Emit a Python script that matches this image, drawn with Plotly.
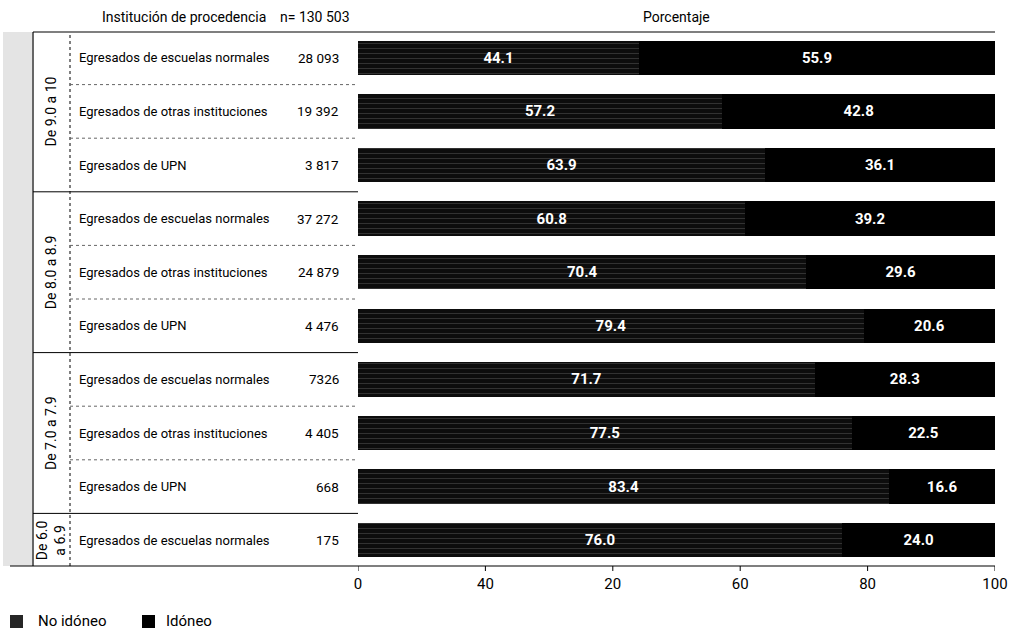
import plotly.graph_objects as go

groups = ["De 9.0 a 10", "De 8.0 a 8.9", "De 7.0 a 7.9", "De 6.0<br>a 6.9"]
group_centers = [1, 4, 7, 9]
institutions = [
    "Egresados de escuelas normales", "Egresados de otras instituciones", "Egresados de UPN",
    "Egresados de escuelas normales", "Egresados de otras instituciones", "Egresados de UPN",
    "Egresados de escuelas normales", "Egresados de otras instituciones", "Egresados de UPN",
    "Egresados de escuelas normales",
]
n_values = ["28 093", "19 392", "3 817", "37 272", "24 879", "4 476", "7326", "4 405", "668", "175"]
no_idoneo = [44.1, 57.2, 63.9, 60.8, 70.4, 79.4, 71.7, 77.5, 83.4, 76.0]
idoneo = [55.9, 42.8, 36.1, 39.2, 29.6, 20.6, 28.3, 22.5, 16.6, 24.0]
tick_vals = [0, 20, 40, 60, 80, 100]
tick_text = ["0", "40", "20", "60", "80", "100"]
series_names = ["No idóneo", "Idóneo"]

W, H = 1009, 631
FONT = "Roboto, Open Sans, sans-serif"
rows = list(range(len(no_idoneo)))

def px(x):
    return x / W

def py(y):
    return 1 - y / H

fig = go.Figure()
fig.add_trace(go.Bar(
    y=rows, x=no_idoneo, orientation="h", name=series_names[0],
    marker=dict(color="#0d0d0d", line=dict(width=0),
                pattern=dict(shape="-", fgcolor="#8a8a8a", bgcolor="#0d0d0d", size=5, solidity=0.12)),
    text=[f"{v:.1f}" for v in no_idoneo], textposition="inside", insidetextanchor="middle",
    textfont=dict(color="white", size=15, family=FONT, weight="bold"), width=0.64,
))
fig.add_trace(go.Bar(
    y=rows, x=idoneo, orientation="h", name=series_names[1],
    marker=dict(color="#000000", line=dict(width=0)),
    text=[f"{v:.1f}" for v in idoneo], textposition="inside", insidetextanchor="middle",
    textfont=dict(color="white", size=15, family=FONT, weight="bold"), width=0.64,
))

ydom = [py(567), py(31)]
fig.update_layout(
    width=W, height=H, barmode="stack",
    margin=dict(l=0, r=0, t=0, b=0, pad=0, autoexpand=False),
    paper_bgcolor="white", plot_bgcolor="white",
    font=dict(family=FONT, color="black", size=13),
    xaxis=dict(domain=[px(358), px(995)], range=[0, 100], tickvals=tick_vals, ticktext=tick_text,
               showgrid=False, zeroline=False, showline=False, ticks="", automargin=False,
               tickfont=dict(size=15, family=FONT), ticklabelstandoff=6),
    yaxis=dict(domain=ydom, range=[9.5, -0.5], showticklabels=False, showgrid=False,
               zeroline=False, showline=False, automargin=False),
    showlegend=False,
)

shapes = []
shapes.append(dict(type="rect", xref="paper", yref="paper", x0=px(3), x1=px(32), y0=py(566), y1=py(32),
                   fillcolor="#e4e4e4", line=dict(width=0), layer="below"))
shapes.append(dict(type="line", xref="paper", yref="paper", x0=px(33), x1=px(995), y0=py(32), y1=py(32),
                   line=dict(color="black", width=1.2)))
shapes.append(dict(type="line", xref="paper", yref="paper", x0=px(10), x1=px(995), y0=py(566), y1=py(566),
                   line=dict(color="black", width=1.2)))
shapes.append(dict(type="line", xref="paper", yref="paper", x0=px(33), x1=px(33), y0=py(566), y1=py(32),
                   line=dict(color="black", width=1.2)))
shapes.append(dict(type="line", xref="paper", yref="paper", x0=px(70), x1=px(70), y0=py(566), y1=py(32),
                   line=dict(color="black", width=1, dash="dot")))
for tv in tick_vals:
    shapes.append(dict(type="line", xref="x", yref="paper", x0=tv, x1=tv, y0=py(566), y1=py(571),
                       line=dict(color="black", width=1)))
group_bounds = [2.5, 5.5, 8.5]
for r in range(len(rows) - 1):
    yb = r + 0.5
    if yb in group_bounds:
        shapes.append(dict(type="line", xref="paper", yref="y", x0=px(33), x1=px(358), y0=yb, y1=yb,
                           line=dict(color="black", width=1)))
    else:
        shapes.append(dict(type="line", xref="paper", yref="y", x0=px(70), x1=px(358), y0=yb, y1=yb,
                           line=dict(color="#666", width=1, dash="dot")))
legend_x = [10, 142]
legend_colors = ["#262626", "#000000"]
for lx, lc in zip(legend_x, legend_colors):
    shapes.append(dict(type="rect", xref="paper", yref="paper", x0=px(lx), x1=px(lx + 13),
                       y0=py(628), y1=py(615), fillcolor=lc, line=dict(width=0)))
fig.update_layout(shapes=shapes)

ann = []
def txt(text, x, y, xanchor="center", yref="paper", size=13.5, angle=0):
    ann.append(dict(text=text, xref="paper", yref=yref, x=x, y=y, xanchor=xanchor, yanchor="middle",
                    showarrow=False, textangle=angle, font=dict(size=size, family=FONT, color="black")))

txt("Institución de procedencia", px(184), py(17), size=14)
txt("n= 130 503", px(352), py(17), xanchor="right", size=14)
txt("Porcentaje", px(676), py(17), size=14)
for r in rows:
    txt(institutions[r], px(77), r, xanchor="left", yref="y", size=13)
    txt(n_values[r], px(341), r, xanchor="right", yref="y", size=13.5)
for g, c in zip(groups, group_centers):
    txt(g, px(51), c, yref="y", angle=-90, size=14)
txt(series_names[0], px(36), py(621), xanchor="left", size=15)
txt(series_names[1], px(164), py(621), xanchor="left", size=15)
fig.update_layout(annotations=ann)

fig.write_html("out.html", config={"displayModeBar": False},
               post_script="document.documentElement.style.overflow='hidden';document.body.style.margin='0';document.body.style.overflow='hidden';")
